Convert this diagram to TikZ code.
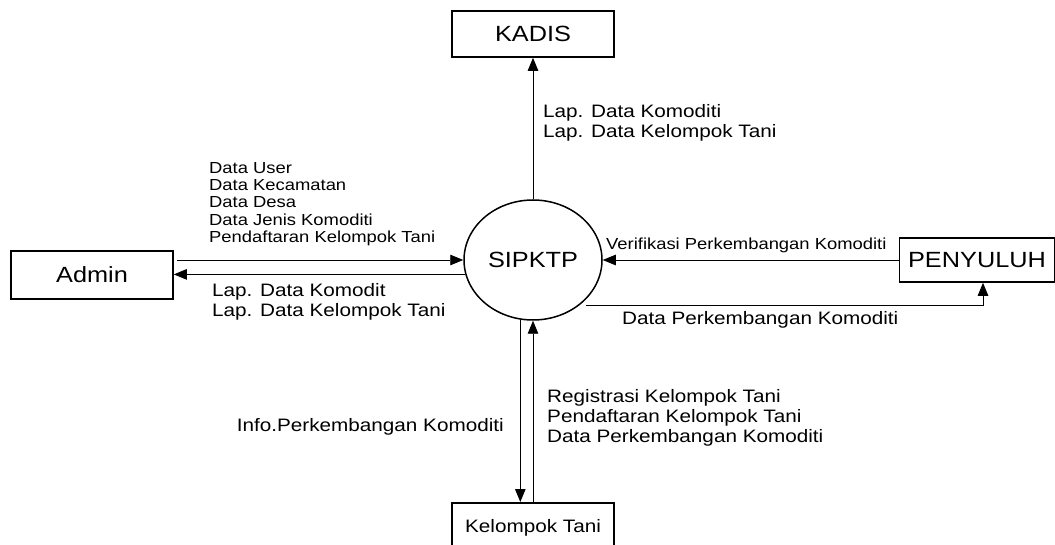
\documentclass[tikz,border=0pt]{standalone}
\usepackage{fontspec}
\setmainfont[FakeStretch=1.15]{Liberation Sans}
\usetikzlibrary{arrows.meta,shapes.geometric}
\begin{document}
\begin{tikzpicture}[x=1pt,y=-1pt,
  entity/.style={draw,line width=1.6pt,inner sep=0pt,font=\fontsize{22}{24}\selectfont},
  proc/.style={draw,ellipse,line width=1.5pt,inner sep=0pt,minimum width=138pt,minimum height=120pt,font=\fontsize{22}{24}\selectfont},
  flow/.style={line width=0.9pt,-{Triangle[length=13pt,width=10.5pt]}},
  smalllab/.style={inner sep=0pt,align=left,anchor=west,font=\fontsize{16}{17.3}\selectfont},
  biglab/.style={inner sep=0pt,align=left,anchor=west,font=\fontsize{18}{20}\selectfont}]
\useasboundingbox (0,0) rectangle (1055,545);
\fill[white] (0,0) rectangle (1055,545);

\node[entity,minimum width=162pt,minimum height=46pt] (kadis) at (533,34) {KADIS};
\node[entity,minimum width=162pt,minimum height=48pt] (admin) at (92,275) {Admin};
\node[entity,minimum width=155pt,minimum height=44pt] (peny) at (977,260) {PENYULUH};
\node[entity,minimum width=162pt,minimum height=50pt,anchor=north,font=\fontsize{18}{20}\selectfont] (kel) at (533,502) {Kelompok Tani};
\node[proc] (sip) at (533,260) {SIPKTP};

% connectors
\draw[flow] (sip.north) -- (kadis.south);
\draw[flow] ([xshift=3pt,yshift=15pt]admin.east) -- (sip.west);
\draw[flow] (sip.192.7) -- (sip.192.7 -| admin.east);
\draw[flow] (peny.west) -- (sip.east);
\draw[flow] ([xshift=6.4pt]sip.-44.6) -| ([xshift=6pt]peny.south);
\draw[flow] (sip.-102.4) -- (sip.-102.4 |- kel.north);
\draw[flow] (kel.north) -- (sip.south);

% labels
\node[smalllab] (l1) at (209,204) {Data User\\Data Kecamatan\\Data Desa\\Data Jenis Komoditi\\Pendaftaran Kelompok Tani};
\node[biglab] (l2) at (212,302) {Lap. Data Komodit\\Lap. Data Kelompok Tani};
\node[biglab] (l3) at (543,123) {Lap. Data Komoditi\\Lap. Data Kelompok Tani};
\node[smalllab] (l4) at (606,245) {Verifikasi Perkembangan Komoditi};
\node[biglab] (l5) at (622,320) {Data Perkembangan Komoditi};
\node[biglab] (l6) at (547,418) {Registrasi Kelompok Tani\\Pendaftaran Kelompok Tani\\Data Perkembangan Komoditi};
\node[biglab,anchor=east] (l7) at (504,427) {Info.Perkembangan Komoditi};
\end{tikzpicture}
\end{document}
